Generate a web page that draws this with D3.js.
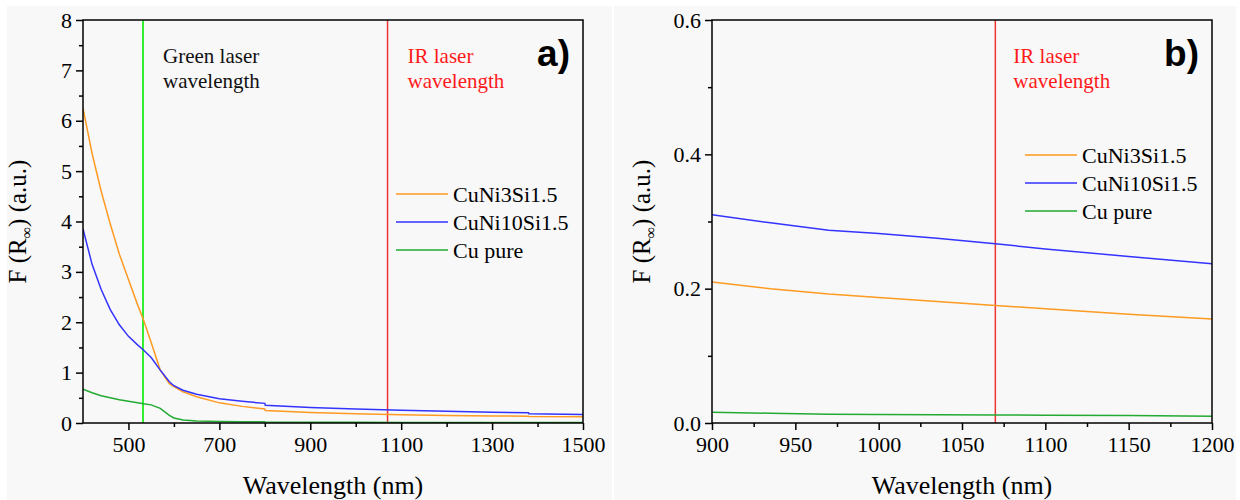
<!DOCTYPE html>
<html>
<head>
<meta charset="utf-8">
<script src="https://cdn.jsdelivr.net/npm/d3@7"></script>
<style>
  body { margin: 0; background: #ffffff; }
</style>
</head>
<body>
<div id="graf"></div>
<script>
// datos leidos de la figura
// panel a) 400 - 1500 nm
wlA       = [400, 420, 440, 460, 480, 500, 520, 533, 550, 570, 590, 600, 620, 650, 700, 750, 800, 801, 900, 1000, 1100, 1200, 1300, 1380, 1381, 1500]
cuni3A    = [6.25, 5.35, 4.6, 3.95, 3.35, 2.85, 2.35, 2.05, 1.6, 1.05, 0.78, 0.72, 0.62, 0.52, 0.40, 0.33, 0.28, 0.25, 0.21, 0.185, 0.165, 0.15, 0.14, 0.135, 0.13, 0.125]
cuni10A   = [3.85, 3.15, 2.65, 2.25, 1.95, 1.72, 1.55, 1.45, 1.3, 1.05, 0.82, 0.74, 0.65, 0.57, 0.48, 0.43, 0.39, 0.35, 0.31, 0.28, 0.255, 0.235, 0.215, 0.205, 0.185, 0.17]
cuA       = [0.67, 0.6, 0.54, 0.5, 0.46, 0.43, 0.40, 0.38, 0.36, 0.29, 0.15, 0.1, 0.06, 0.04, 0.03, 0.027, 0.024, 0.02, 0.016, 0.014, 0.012, 0.011, 0.01, 0.01, 0.01, 0.01]

// panel b) 900 - 1200 nm
wlB       = [900, 935, 970, 1000, 1035, 1070, 1100, 1150, 1200]
cuni3B    = [0.21, 0.200, 0.192, 0.187, 0.181, 0.175, 0.170, 0.162, 0.155]
cuni10B   = [0.31, 0.298, 0.287, 0.282, 0.275, 0.267, 0.259, 0.248, 0.237]
cuB       = [0.016, 0.0145, 0.013, 0.0128, 0.0124, 0.012, 0.0115, 0.011, 0.010]

series    = ['CuNi3Si1.5', 'CuNi10Si1.5', 'Cu pure']
colores   = ['#ff9a22', '#3333ff', '#22aa33']

ticksXA   = [500, 700, 900, 1100, 1300, 1500]
ticksYA   = [0, 1, 2, 3, 4, 5, 6, 7, 8]
ticksXB   = [900, 950, 1000, 1050, 1100, 1150, 1200]
ticksYB   = [0.0, 0.2, 0.4, 0.6]

greenLaser = 532
irLaser    = 1070

serif = "'Liberation Serif', 'Times New Roman', Times, serif"

svg = d3.select('#graf').append('svg')
  .attr('width', 1240)
  .attr('height', 500)
  .attr('font-family', serif)

// fondos grises de cada panel
svg.append('rect').attr('x', 7).attr('y', 6).attr('width', 605).attr('height', 494).attr('fill', '#f8f8f8')
svg.append('rect').attr('x', 614).attr('y', 6).attr('width', 622).attr('height', 494).attr('fill', '#f8f8f8')

function panel(cfg) {
  const x = d3.scaleLinear().domain(cfg.xdom).range([cfg.left, cfg.right])
  const y = d3.scaleLinear().domain(cfg.ydom).range([cfg.bottom, cfg.top])
  const g = svg.append('g')

  g.append('defs').append('clipPath').attr('id', 'clip' + cfg.name)
    .append('rect')
    .attr('x', cfg.left).attr('y', cfg.top)
    .attr('width', cfg.right - cfg.left).attr('height', cfg.bottom - cfg.top)

  // lineas de laser
  cfg.lasers.forEach(l => {
    g.append('line')
      .attr('x1', x(l.wl)).attr('x2', x(l.wl))
      .attr('y1', cfg.top).attr('y2', cfg.bottom)
      .attr('stroke', l.color).attr('stroke-width', l.w)
    l.text.forEach((t, i) => {
      g.append('text')
        .attr('x', x(l.wl) + l.dx)
        .attr('y', 63 + i * 25)
        .attr('font-family', serif)
        .attr('font-size', '21px')
        .attr('fill', l.tcolor)
        .text(t)
    })
  })

  // curvas
  const line = d3.line().x(d => x(d[0])).y(d => y(d[1]))
  cfg.data.forEach((s, i) => {
    g.append('path')
      .datum(cfg.wl.map((w, j) => [w, s[j]]))
      .attr('d', line)
      .attr('fill', 'none')
      .attr('stroke', colores[i])
      .attr('stroke-width', 1.5)
      .attr('clip-path', `url(#clip${cfg.name})`)
  })

  // ejes
  const xAxis = d3.axisBottom(x).tickValues(cfg.xticks).tickSize(7).tickPadding(6)
    .tickFormat(d => d3.format(cfg.xfmt)(d))
  const xMinor = d3.axisBottom(x).tickValues(cfg.xminor).tickSize(4).tickFormat('')
  const yAxis = d3.axisLeft(y).tickValues(cfg.yticks).tickSize(7).tickPadding(4)
    .tickFormat(d => d3.format(cfg.yfmt)(d))
  const yMinor = d3.axisLeft(y).tickValues(cfg.yminor).tickSize(4).tickFormat('')

  ;[[xAxis, 'x'], [xMinor, 'x'], [yAxis, 'y'], [yMinor, 'y']].forEach(([ax, t]) => {
    const a = g.append('g')
      .attr('transform', t == 'x' ? `translate(0,${cfg.bottom})` : `translate(${cfg.left},0)`)
      .call(ax)
      .attr('font-family', serif)
      .attr('font-size', 22)
    a.select('.domain').remove()
    a.selectAll('line').attr('stroke', '#000').attr('stroke-width', 1.5)
    a.selectAll('text').attr('fill', '#000')
  })

  // marco
  g.append('rect')
    .attr('x', cfg.left).attr('y', cfg.top)
    .attr('width', cfg.right - cfg.left).attr('height', cfg.bottom - cfg.top)
    .attr('fill', 'none').attr('stroke', '#000').attr('stroke-width', 1.5)

  // titulos de ejes
  g.append('text')
    .attr('x', (cfg.left + cfg.right) / 2)
    .attr('y', 494)
    .attr('text-anchor', 'middle')
    .attr('font-family', serif)
    .attr('font-size', '26px')
    .text('Wavelength (nm)')

  const yl = g.append('text')
    .attr('transform', `translate(${cfg.ylabX},${(cfg.top + cfg.bottom) / 2}) rotate(-90)`)
    .attr('text-anchor', 'middle')
    .attr('font-family', serif)
    .attr('font-size', '25px')
  yl.append('tspan').text('F (R')
  yl.append('tspan').attr('font-size', '16px').attr('dy', 6).text('∞')
  yl.append('tspan').attr('dy', -6).text(') (a.u.)')

  // letra del panel
  g.append('text')
    .attr('x', cfg.right - 13)
    .attr('y', 66)
    .attr('text-anchor', 'end')
    .attr('font-family', "'Liberation Sans', Arial, sans-serif")
    .attr('font-weight', 'bold')
    .attr('font-size', '37px')
    .text(cfg.name + ')')

  // leyenda
  series.forEach((s, i) => {
    const yy = cfg.legY + i * 28
    g.append('line')
      .attr('x1', cfg.legX).attr('x2', cfg.legX + 52)
      .attr('y1', yy).attr('y2', yy)
      .attr('stroke', colores[i]).attr('stroke-width', 1.5)
    g.append('text')
      .attr('x', cfg.legX + 57)
      .attr('y', yy + 8)
      .attr('font-family', serif)
      .attr('font-size', '22px')
      .text(s)
  })
}

panel({
  name: 'a', left: 83, right: 583, top: 20, bottom: 423,
  xdom: [400, 1500], ydom: [0, 8],
  wl: wlA, data: [cuni3A, cuni10A, cuA],
  xticks: ticksXA, xminor: [600, 800, 1000, 1200, 1400], xfmt: 'd',
  yticks: ticksYA, yminor: d3.range(0.5, 8, 1), yfmt: 'd',
  ylabX: 26, legX: 396, legY: 194,
  lasers: [
    { wl: greenLaser, color: '#33ee33', w: 2, tcolor: '#111', dx: 20, text: ['Green laser', 'wavelength'] },
    { wl: irLaser, color: '#ee3333', w: 1.5, tcolor: '#ff1a1a', dx: 20, text: ['IR laser', 'wavelength'] }
  ]
})

panel({
  name: 'b', left: 712, right: 1212, top: 20, bottom: 423,
  xdom: [900, 1200], ydom: [0, 0.6],
  wl: wlB, data: [cuni3B, cuni10B, cuB],
  xticks: ticksXB, xminor: [925, 975, 1025, 1075, 1125, 1175], xfmt: 'd',
  yticks: ticksYB, yminor: [0.1, 0.3, 0.5], yfmt: '.1f',
  ylabX: 650, legX: 1025, legY: 155,
  lasers: [
    { wl: irLaser, color: '#ee3333', w: 1.5, tcolor: '#ff1a1a', dx: 18, text: ['IR laser', 'wavelength'] }
  ]
})
</script>
</body>
</html>
